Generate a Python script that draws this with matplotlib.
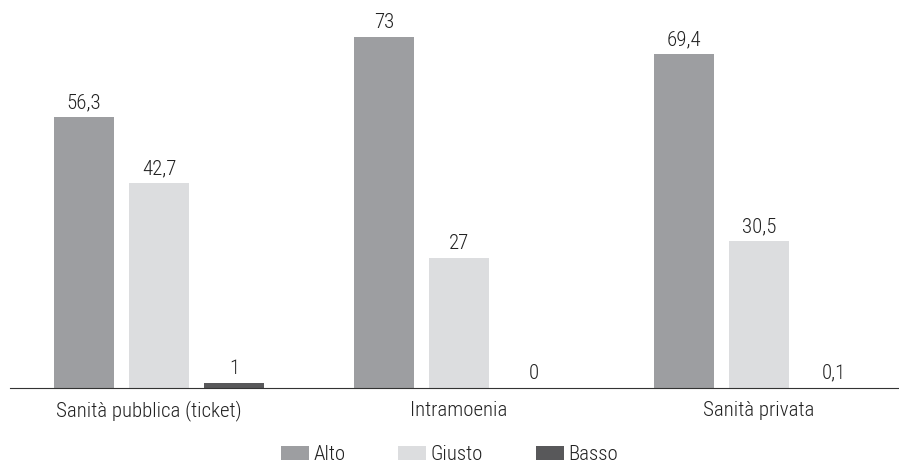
import numpy as np
import matplotlib
matplotlib.use("Agg")
import matplotlib.pyplot as plt
from matplotlib.transforms import ScaledTranslation

plt.rcParams["font.family"] = ["Roboto Condensed", "DejaVu Sans"]
plt.rcParams["font.weight"] = "light"

categories = ["Sanità pubblica (ticket)", "Intramoenia", "Sanità privata"]
series = ["Alto", "Giusto", "Basso"]
alto = [56.3, 73, 69.4]
giusto = [42.7, 27, 30.5]
basso = [1, 0, 0.1]
labels = [["56,3", "73", "69,4"], ["42,7", "27", "30,5"], ["1", "0", "0,1"]]
colors = ["#9d9ea1", "#dcdddf", "#58585a"]

fig = plt.figure(figsize=(8.99, 4.66), dpi=100)
ax = fig.add_axes([10 / 899, 78 / 466, 889 / 899, 388 / 466])

x = np.arange(len(categories))
w = 0.2
for i, (vals, name) in enumerate(zip([alto, giusto, basso], series)):
    pos = x + (i - 1) * 0.25
    ax.bar(pos, vals, width=w, color=colors[i], label=name)
    for p, v, t in zip(pos, vals, labels[i]):
        ax.text(p, v + 1.0, t, ha="center", va="bottom", fontsize=15, color="#222222")

ax.set_xlim(-0.497, 2.467)
ax.set_ylim(0, 80.7)
for s in ["top", "right", "left"]:
    ax.spines[s].set_visible(False)
ax.spines["bottom"].set_color("#333333")
ax.set_yticks([])
ax.set_xticks(x)
ax.set_xticklabels(categories, fontsize=15, color="#222222")
ax.tick_params(axis="x", length=0, pad=9)
# first label sits a bit left of its group in the original
lab0 = ax.get_xticklabels()[0]
lab0.set_transform(lab0.get_transform() + ScaledTranslation(-0.1, 0, fig.dpi_scale_trans))

fig.legend(loc="center", bbox_to_anchor=(0.5, 1 - 455 / 466), ncol=3, frameon=False,
           fontsize=15, handlelength=1.35, handleheight=0.63, handletextpad=0.2,
           columnspacing=2.55, labelcolor="#222222")

fig.savefig("out.png", dpi=100)
